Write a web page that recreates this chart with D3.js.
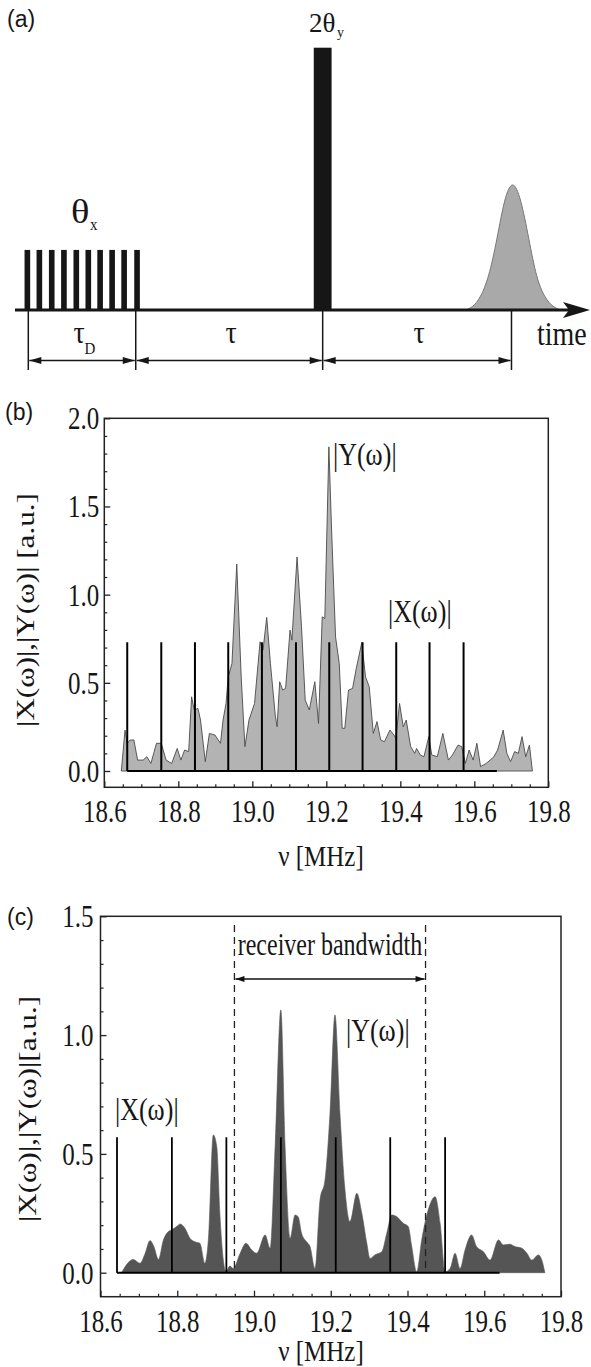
<!DOCTYPE html>
<html><head><meta charset="utf-8">
<script src="https://cdn.jsdelivr.net/npm/d3@7"></script>
<style>body{margin:0;background:#fff} svg{display:block}</style>
</head><body>
<svg id="fig" width="591" height="1367"></svg>
<script>
// ================= DATA =================
// Panel (a): pulse sequence, time in units of tau
const trainCenters = [-0.005, 0.059, 0.125, 0.190, 0.256, 0.320, 0.383, 0.447, 0.511, 0.580];
const trainWidth = 0.030;
const trainAmp = 0.229;
const refocusCenter = 1.570, refocusWidth = 0.095, refocusAmp = 1.0;
const echoT = [2.330, 2.370, 2.410, 2.455, 2.500, 2.540, 2.583, 2.626, 2.670, 2.710, 2.755, 2.800, 2.840];
const echoA = [0, 0.010, 0.045, 0.120, 0.270, 0.430, 0.500, 0.430, 0.270, 0.120, 0.045, 0.010, 0];
const markerT = [0, 0.573, 1.570, 2.577];
const intervalLabels = ["τ", "τ", "τ"];
const intervalSubs = ["D", "", ""];

// Panel (b)
const bXTicks = [18.6, 18.8, 19.0, 19.2, 19.4, 19.6, 19.8];
const bYTicks = [0.0, 0.5, 1.0, 1.5, 2.0];
const bStickNu = [18.662, 18.754, 18.845, 18.935, 19.026, 19.118, 19.208, 19.298, 19.389, 19.479, 19.571];
const bStickH = 0.73;
const bBaseEnd = 19.661;
const bNu = [18.646,18.656,18.662,18.670,18.680,18.690,18.705,18.715,18.726,18.741,18.754,18.767,18.782,18.797,18.807,18.817,18.828,18.836,18.843,18.853,18.860,18.873,18.884,18.899,18.914,18.921,18.929,18.935,18.945,18.958,18.970,18.980,18.991,19.006,19.021,19.029,19.039,19.049,19.062,19.067,19.074,19.082,19.090,19.102,19.107,19.121,19.133,19.143,19.154,19.169,19.179,19.189,19.196,19.207,19.214,19.225,19.235,19.243,19.250,19.260,19.271,19.281,19.296,19.306,19.316,19.327,19.337,19.347,19.357,19.372,19.383,19.388,19.398,19.408,19.416,19.428,19.439,19.444,19.454,19.464,19.477,19.485,19.500,19.515,19.530,19.541,19.556,19.566,19.576,19.586,19.597,19.607,19.617,19.632,19.643,19.653,19.663,19.678,19.688,19.698,19.709,19.719,19.729,19.739,19.749,19.757];
const bY  = [0,0.232,0.157,0.176,0.176,0.062,0.062,0.081,0.043,0.157,0.157,0.062,0.043,0.128,0.062,0.119,0.110,0.421,0.346,0.355,0.289,0.053,0.213,0.204,0.157,0.289,0.383,0.534,0.610,1.173,0.534,0.138,0.289,0.383,0.733,0.686,0.871,0.610,0.317,0.251,0.506,0.459,0.468,0.799,0.742,1.214,0.818,0.402,0.346,0.506,0.270,0.874,0.865,1.838,1.384,0.761,0.610,0.242,0.242,0.459,0.468,0.582,0.729,0.534,0.478,0.213,0.280,0.176,0.166,0.232,0.204,0.185,0.383,0.251,0.289,0.138,0.100,0.128,0.091,0.081,0.195,0.091,0.081,0.213,0.062,0.091,0.147,0.138,0.043,0.119,0.062,0.157,0.025,0.043,0.062,0.081,0.119,0.232,0.100,0.053,0.110,0.100,0.195,0.081,0.147,0];

// Panel (c)
const cXTicks = [18.6, 18.8, 19.0, 19.2, 19.4, 19.6, 19.8];
const cYTicks = [0.0, 0.5, 1.0, 1.5];
const cStickNu = [18.643, 18.786, 18.928, 19.070, 19.213, 19.355, 19.498];
const cStickH = 0.57;
const cBaseEnd = 19.640;
const cBand = [18.949, 19.447];
const cBandTop = 1.463, cBandArrow = 1.236;
const cNu = [18.655,18.677,18.685,18.703,18.716,18.729,18.739,18.751,18.764,18.777,18.785,18.803,18.807,18.820,18.833,18.846,18.859,18.872,18.881,18.894,18.903,18.911,18.920,18.927,18.937,18.946,18.964,18.979,18.994,19.007,19.029,19.042,19.055,19.070,19.081,19.094,19.107,19.115,19.124,19.137,19.146,19.159,19.172,19.185,19.198,19.211,19.224,19.237,19.250,19.268,19.281,19.294,19.302,19.315,19.333,19.346,19.359,19.372,19.389,19.402,19.411,19.424,19.437,19.454,19.472,19.485,19.498,19.511,19.524,19.537,19.550,19.567,19.580,19.598,19.615,19.637,19.650,19.667,19.680,19.698,19.711,19.724,19.741,19.750,19.758];
const cY  = [0,0.050,0.056,0.040,0.080,0.135,0.110,0.056,0.138,0.173,0.180,0.200,0.205,0.187,0.145,0.130,0.124,0.040,0.138,0.580,0.530,0.250,0.053,0.004,0.028,0.018,0.082,0.124,0.096,0.082,0.159,0.103,0.530,1.106,0.530,0.145,0.243,0.236,0.166,0.130,0.110,0.018,0.306,0.390,0.670,1.085,0.670,0.350,0.215,0.334,0.250,0.124,0.060,0.075,0.088,0.166,0.243,0.236,0.208,0.194,0.110,0.004,0.138,0.264,0.320,0.208,0.004,0.018,0.082,0.018,0.096,0.159,0.110,0.088,0.053,0.138,0.117,0.120,0.110,0.103,0.082,0.053,0.075,0.053,0];

// ================= DRAWING =================
const SERIF = "'Liberation Serif','Times New Roman',Times,serif";
const SANS = "'Liberation Sans',Arial,sans-serif";
const svg = d3.select("#fig");
const INK = "#161616";

function txt(g, x, y, s, size, opt = {}) {
  const sx = opt.sx || 1, sy = opt.sy || 1.22;
  const rot = opt.rot ? ` rotate(${opt.rot})` : "";
  return g.append("text")
    .attr("transform", `translate(${x},${y})${rot} scale(${sx},${sy})`)
    .attr("text-anchor", opt.anchor || "start")
    .attr("font-family", opt.family || SERIF)
    .attr("font-size", size)
    .attr("fill", opt.fill || INK)
    .text(s);
}

// ---------- Panel (a) ----------
(function () {
  const g = svg.append("g");
  const x = d3.scaleLinear([0, 1], [28.3, 215.8]);
  const y = d3.scaleLinear([0, 1], [310, 47.7]);

  txt(g, 7, 27, "(a)", 23, {family: SANS, sy: 1});

  // pulse train
  g.selectAll("rect.train").data(trainCenters).join("rect")
    .attr("x", d => x(d - trainWidth / 2)).attr("width", x(trainWidth) - x(0))
    .attr("y", y(trainAmp)).attr("height", y(0) - y(trainAmp)).attr("fill", INK);
  // refocusing pulse
  g.append("rect")
    .attr("x", x(refocusCenter - refocusWidth / 2)).attr("width", x(refocusWidth) - x(0))
    .attr("y", y(refocusAmp)).attr("height", y(0) - y(refocusAmp)).attr("fill", INK);
  // echo
  const echo = echoT.map((t, i) => [t, echoA[i]]);
  g.append("path").datum(echo)
    .attr("d", d3.area().x(d => x(d[0])).y0(y(0)).y1(d => y(d[1])).curve(d3.curveBasis))
    .attr("fill", "#a9a9a9").attr("stroke", "#777").attr("stroke-width", 1);

  // time axis
  const xEnd = x.invert(591);
  g.append("line").attr("x1", x(-0.071)).attr("x2", x(xEnd) - 12).attr("y1", y(0)).attr("y2", y(0))
    .attr("stroke", INK).attr("stroke-width", 3.2);
  const tip = x(xEnd) - 1, base = y(0);
  g.append("path").attr("d", `M${tip - 27},${base - 8} L${tip},${base} L${tip - 27},${base + 8} L${tip - 21},${base} Z`).attr("fill", INK);
  txt(g, 537, 345, "time", 28, {sy: 1.2});

  // markers
  g.selectAll("line.mk").data(markerT).join("line")
    .attr("x1", d => x(d)).attr("x2", d => x(d)).attr("y1", y(0)).attr("y2", 370)
    .attr("stroke", INK).attr("stroke-width", 1.5);
  // dimension arrows
  const ay = 360.5;
  for (let i = 0; i < markerT.length - 1; i++) {
    const a = x(markerT[i]) + 1, b = x(markerT[i + 1]) - 1;
    g.append("line").attr("x1", a).attr("x2", b).attr("y1", ay).attr("y2", ay).attr("stroke", INK).attr("stroke-width", 1.5);
    g.append("path").attr("d", `M${a},${ay} L${a + 12},${ay - 3.5} L${a + 12},${ay + 3.5} Z`).attr("fill", INK);
    g.append("path").attr("d", `M${b},${ay} L${b - 12},${ay - 3.5} L${b - 12},${ay + 3.5} Z`).attr("fill", INK);
    const mid = (x(markerT[i]) + x(markerT[i + 1])) / 2;
    if (intervalSubs[i]) {
      txt(g, mid - 3, 343, intervalLabels[i], 28, {anchor: "middle", sy: 1.1});
      txt(g, mid + 8, 354, intervalSubs[i], 15, {anchor: "middle", sy: 1.1});
    } else {
      txt(g, mid + 2, 343, intervalLabels[i], 28, {anchor: "middle", sy: 1.1});
    }
  }
  // pulse labels
  txt(g, 71, 223, "θ", 32, {sx: 1.2, sy: 1.05});
  txt(g, 90, 230, "x", 15, {sy: 1.1});
  txt(g, 309, 32, "2θ", 27, {sy: 1.05});
  txt(g, 337, 37, "y", 14, {sy: 1.1});
})();

// ---------- Spectrum panel builder ----------
function spectrumPanel(cfg) {
  const g = svg.append("g");
  const x = d3.scaleLinear([18.6, 19.8], cfg.xr);
  const y = d3.scaleLinear([0, cfg.ymax], [cfg.y0, cfg.ytop]);
  const bottom = cfg.bottom;

  // Y spectrum
  const pts = cfg.nu.map((n, i) => [n, cfg.yv[i]]);
  g.append("path").datum(pts)
    .attr("d", d3.area().x(d => x(d[0])).y0(y(0)).y1(d => y(d[1])).curve(cfg.curve))
    .attr("fill", cfg.fill).attr("stroke", cfg.stroke).attr("stroke-width", cfg.sw);

  // X sticks + baseline
  g.append("line").attr("x1", x(cfg.sticks[0])).attr("x2", x(cfg.baseEnd))
    .attr("y1", y(0)).attr("y2", y(0)).attr("stroke", "#000").attr("stroke-width", 2);
  g.selectAll("line.stick").data(cfg.sticks).join("line")
    .attr("x1", d => x(d)).attr("x2", d => x(d)).attr("y1", y(0)).attr("y2", y(cfg.stickH))
    .attr("stroke", "#000").attr("stroke-width", cfg.stickW);

  // frame
  g.append("rect").attr("x", cfg.xr[0]).attr("y", cfg.ytop).attr("width", cfg.xr[1] - cfg.xr[0])
    .attr("height", bottom - cfg.ytop).attr("fill", "none").attr("stroke", "#222").attr("stroke-width", 1.5);

  // axes
  const minorX = d3.range(18.6, 19.8001, 0.05).filter(v => Math.abs(v * 5 - Math.round(v * 5)) > 1e-6);
  const ax = g.append("g").attr("transform", `translate(0,${bottom})`)
    .call(d3.axisBottom(x).tickValues(cfg.xticks).tickSizeInner(-6).tickSizeOuter(0).tickFormat(d3.format(".1f")));
  ax.select(".domain").remove();
  ax.selectAll("line").attr("stroke", "#222").attr("stroke-width", 1.3);
  ax.selectAll("text").attr("y", null).attr("dy", null)
    .attr("transform", `translate(0,${cfg.xlabY - bottom}) scale(1,1.25)`)
    .attr("font-family", SERIF).attr("font-size", 25).attr("fill", INK);
  const axm = g.append("g").attr("transform", `translate(0,${bottom})`)
    .call(d3.axisBottom(x).tickValues(minorX).tickSizeInner(-3).tickSizeOuter(0).tickFormat(""));
  axm.select(".domain").remove();
  axm.selectAll("line").attr("stroke", "#222").attr("stroke-width", 1.2);

  const minorY = d3.range(0, cfg.ymax + 0.001, 0.1).filter(v => Math.abs(v * 2 - Math.round(v * 2)) > 1e-6);
  const ay = g.append("g").attr("transform", `translate(${cfg.xr[0]},0)`)
    .call(d3.axisLeft(y).tickValues(cfg.yticks).tickSizeInner(-6).tickSizeOuter(0).tickFormat(d3.format(".1f")));
  ay.select(".domain").remove();
  ay.selectAll("line").attr("stroke", "#222").attr("stroke-width", 1.3);
  ay.selectAll("text").attr("x", null).attr("dy", null)
    .attr("transform", `translate(${cfg.ylabDx},10.5) scale(1,1.25)`)
    .attr("font-family", SERIF).attr("font-size", 25).attr("fill", INK);
  const aym = g.append("g").attr("transform", `translate(${cfg.xr[0]},0)`)
    .call(d3.axisLeft(y).tickValues(minorY).tickSizeInner(-3).tickSizeOuter(0).tickFormat(""));
  aym.select(".domain").remove();
  aym.selectAll("line").attr("stroke", "#222").attr("stroke-width", 1.2);

  // titles
  txt(g, 321, cfg.xtitleY, "ν [MHz]", 25, {anchor: "middle", sy: 1.15});
  g.append("text")
    .attr("transform", `translate(${cfg.ytitle[0]},${cfg.ytitle[1]}) rotate(-90) scale(1.2,1)`)
    .attr("text-anchor", "middle").attr("dy", "0.35em")
    .attr("font-family", SERIF).attr("font-size", 26).attr("fill", INK)
    .text(cfg.ytitleText);
  txt(g, cfg.panelLab[0], cfg.panelLab[1], cfg.panelLab[2], 23, {family: SANS, sy: 1});
  return {g, x, y};
}

// ---------- Panel (b) ----------
const B = spectrumPanel({
  xr: [104.3, 548.3], ymax: 2, y0: 771, ytop: 418.3, bottom: 787.3,
  nu: bNu, yv: bY, curve: d3.curveLinear, fill: "#b3b3b3", stroke: "#4a4a4a", sw: 0.9,
  sticks: bStickNu, stickH: bStickH, baseEnd: bBaseEnd, stickW: 2,
  xticks: bXTicks, yticks: bYTicks, xlabY: 822, ylabDx: -5,
  xtitleY: 866, ytitle: [25, 610], ytitleText: "|X(ω)|,|Y(ω)| [a.u.]",
  panelLab: [5, 420, "(b)"]
});
txt(B.g, 333, 465, "|Y(ω)|", 26, {sy: 1.2});
txt(B.g, 388, 622, "|X(ω)|", 26, {sy: 1.2});

// ---------- Panel (c) ----------
const C = spectrumPanel({
  xr: [100.5, 561], ymax: 1.5, y0: 1272.7, ytop: 916.3, bottom: 1296.7,
  nu: cNu, yv: cY, curve: d3.curveMonotoneX, fill: "#555555", stroke: "#555555", sw: 0.6,
  sticks: cStickNu, stickH: cStickH, baseEnd: cBaseEnd, stickW: 1.8,
  xticks: cXTicks, yticks: cYTicks, xlabY: 1331.5, ylabDx: -7,
  xtitleY: 1361, ytitle: [27, 1109], ytitleText: "|X(ω)|,|Y(ω)|[a.u.]",
  panelLab: [7, 925, "(c)"]
});
// receiver bandwidth
cBand.forEach(v => {
  C.g.append("line").attr("x1", C.x(v)).attr("x2", C.x(v)).attr("y1", C.y(cBandTop)).attr("y2", C.y(0))
    .attr("stroke", "#222").attr("stroke-width", 1.3).attr("stroke-dasharray", "7,5");
});
{
  const a = C.x(cBand[0]) + 1, b = C.x(cBand[1]) - 1, yy = C.y(cBandArrow);
  C.g.append("line").attr("x1", a).attr("x2", b).attr("y1", yy).attr("y2", yy).attr("stroke", "#111").attr("stroke-width", 1.4);
  C.g.append("path").attr("d", `M${a},${yy} L${a + 9},${yy - 3} L${a + 9},${yy + 3} Z`).attr("fill", "#111");
  C.g.append("path").attr("d", `M${b},${yy} L${b - 9},${yy - 3} L${b - 9},${yy + 3} Z`).attr("fill", "#111");
}
txt(C.g, 330, 955, "receiver bandwidth", 24, {anchor: "middle", sy: 1.3});
txt(C.g, 346, 1041, "|Y(ω)|", 26, {sy: 1.2});
txt(C.g, 115, 1119.5, "|X(ω)|", 26, {sy: 1.2});
</script>
</body></html>
